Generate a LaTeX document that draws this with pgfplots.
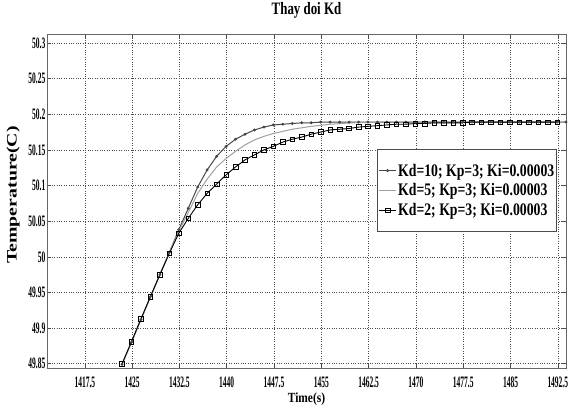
\documentclass[border=0pt]{standalone}
\usepackage{pgfplots}
\pgfplotsset{compat=1.18}
\usepackage{fontspec}
\setmainfont{Liberation Serif}
\newfontfamily\tickfont{Liberation Serif}[FakeStretch=0.47]
\newfontfamily\legfont{Liberation Serif}[UprightFont={* Bold}, FakeStretch=0.78]
\newfontfamily\titlefont{Liberation Serif}[UprightFont={* Bold}, FakeStretch=0.74]
\newfontfamily\xlabfont{Liberation Serif}[UprightFont={* Bold}, FakeStretch=0.82]
\newfontfamily\ylabfont{Liberation Serif}[UprightFont={* Bold}, FakeStretch=1.37]
\definecolor{cTen}{RGB}{70,70,70}
\definecolor{cFive}{RGB}{160,160,160}
\begin{document}
\begin{tikzpicture}
\begin{axis}[
  scale only axis, width=519bp, height=334bp,
  xmin=1411.5, xmax=1493.8, ymin=49.844, ymax=50.3126,
  xtick={1417.5,1425,1432.5,1440,1447.5,1455,1462.5,1470,1477.5,1485,1492.5},
  ytick={49.85,49.9,49.95,50,50.05,50.1,50.15,50.2,50.25,50.3},
  xticklabels={1417.5,1425,1432.5,1440,1447.5,1455,1462.5,1470,1477.5,1485,1492.5},
  yticklabels={49.85,49.9,49.95,50,50.05,50.1,50.15,50.2,50.25,50.3},
  scaled ticks=false,
  grid=major,
  grid style={dotted, black!70, line width=0.6pt},
  tick align=inside, major tick length=4bp,
  tick style={black!70, line width=0.6pt},
  axis line style={black!60, line width=0.8pt},
  title={Thay doi Kd},
  title style={font=\titlefont\fontsize{17.5}{17.5}\selectfont, at={(axis description cs:0.5,1)}, anchor=base, yshift=14bp},
  xlabel={Time(s)},
  xlabel style={font=\xlabfont\fontsize{14}{14}\selectfont, at={(axis description cs:0.5,0)}, anchor=base, yshift=-34bp},
  ylabel={Temperature(C)},
  ylabel style={font=\ylabfont\fontsize{14.5}{14.5}\selectfont, at={(axis description cs:-0.065,0.518)}, anchor=center},
  xticklabel style={font=\tickfont\bfseries\fontsize{16}{16}\selectfont, anchor=base, yshift=-19bp},
  yticklabel style={font=\tickfont\bfseries\fontsize{16}{16}\selectfont, anchor=east, inner xsep=1.5bp},
  legend style={at={(axis description cs:0.983,0.656)}, anchor=north east,
    font=\legfont\fontsize{17.7}{17.7}\selectfont, draw=black!70, line width=0.8pt,
    inner xsep=1bp, inner ysep=13bp, row sep=3bp, nodes={inner sep=1.5bp}},
  legend cell align=left,
]
\addplot[cTen, line width=1pt, mark=*, mark size=0.9pt, mark options={solid}] coordinates {
(1423.4,49.849)(1424.9,49.880)(1426.4,49.912)(1427.9,49.944)(1429.4,49.975)
(1430.9,50.006)(1432.4,50.038)(1433.9,50.068)(1435.4,50.098)(1436.9,50.122)
(1438.4,50.141)(1439.9,50.155)(1441.4,50.165)(1442.9,50.172)(1444.4,50.178)
(1445.9,50.182)(1447.4,50.185)(1448.9,50.186)(1450.4,50.187)(1451.9,50.188)
(1453.4,50.188)(1454.9,50.189)(1456.4,50.189)(1457.9,50.189)(1459.4,50.189)
(1460.9,50.189)(1462.4,50.189)(1463.9,50.189)(1465.4,50.189)(1466.9,50.189)
(1468.4,50.189)(1469.9,50.189)(1471.4,50.189)(1472.9,50.189)(1474.4,50.189)
(1475.9,50.189)(1477.4,50.189)(1478.9,50.189)(1480.4,50.189)(1481.9,50.189)
(1483.4,50.189)(1484.9,50.189)(1486.4,50.189)(1487.9,50.189)(1489.4,50.189)
(1490.9,50.189)(1492.4,50.189)(1493.8,50.189)
};
\addlegendentry{Kd=10; Kp=3; Ki=0.00003}
\addplot[cFive, line width=1pt] coordinates {
(1423.4,49.849)(1426.4,49.912)(1429.4,49.975)(1430.9,50.006)(1432.4,50.036)
(1433.9,50.062)(1435.4,50.089)(1436.9,50.109)(1438.4,50.126)(1439.9,50.138)
(1441.4,50.148)(1442.9,50.157)(1444.4,50.164)(1445.9,50.169)(1447.4,50.173)
(1448.9,50.176)(1450.4,50.179)(1453.4,50.183)(1456.4,50.186)(1460.0,50.188)
(1465.0,50.189)(1493.8,50.189)
};
\addlegendentry{Kd=5; Kp=3; Ki=0.00003}
\addplot[black, line width=0.9pt, mark=square, mark size=2.3pt, mark options={solid, line width=0.6pt}] coordinates {
(1423.4,49.850)(1424.9,49.881)(1426.4,49.913)(1427.9,49.944)(1429.4,49.975)
(1430.9,50.005)(1432.4,50.033)(1433.9,50.054)(1435.4,50.073)(1436.9,50.089)
(1438.4,50.102)(1439.9,50.115)(1441.4,50.126)(1442.9,50.136)(1444.4,50.143)
(1445.9,50.150)(1447.4,50.155)(1448.9,50.161)(1450.4,50.165)(1451.9,50.168)
(1453.4,50.172)(1454.9,50.175)(1456.4,50.178)(1457.9,50.179)(1459.4,50.180)
(1460.9,50.182)(1462.4,50.183)(1463.9,50.184)(1465.4,50.185)(1466.9,50.186)
(1468.4,50.186)(1469.9,50.187)(1471.4,50.187)(1472.9,50.188)(1474.4,50.188)
(1475.9,50.188)(1477.4,50.188)(1478.9,50.189)(1480.4,50.189)(1481.9,50.189)
(1483.4,50.189)(1484.9,50.189)(1486.4,50.189)(1487.9,50.189)(1489.4,50.189)
(1490.9,50.189)(1492.4,50.189)
};
\addlegendentry{Kd=2; Kp=3; Ki=0.00003}
\end{axis}
\pgfresetboundingbox
\path ([shift={(-47bp,-42bp)}]current axis.south west) rectangle ([shift={(7bp,34bp)}]current axis.north east);
\end{tikzpicture}
\end{document}
